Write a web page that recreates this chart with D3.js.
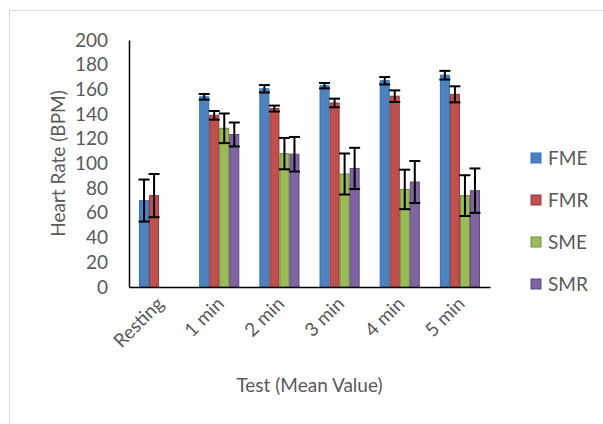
<!DOCTYPE html>
<html><head><meta charset="utf-8">
<script src="https://cdn.jsdelivr.net/npm/d3@7"></script>
<style>body{margin:0;background:#fff}svg{display:block}text{font-family:Lato,"Open Sans",sans-serif;fill:#595959}</style>
</head><body><svg id="c" width="603" height="424"></svg>
<script>
const categories = ["Resting","1 min","2 min","3 min","4 min","5 min"];
const seriesNames = ["FME","FMR","SME","SMR"];
const FME = [70, 154, 160.5, 163, 167, 171.5];
const FMR = [74, 139, 144.5, 149, 154.5, 156];
const SME = [null, 128.5, 108, 91.5, 79, 74];
const SMR = [null, 123.5, 107.5, 96, 85, 78];
const FME_err = [17, 2.3, 3, 2.2, 3, 3.5];
const FMR_err = [17.5, 3.5, 2.4, 3.5, 4.7, 6.5];
const SME_err = [null, 12, 12.7, 16.6, 16, 16.5];
const SMR_err = [null, 9.7, 14, 16.7, 17, 18];
const yTicks = [0,20,40,60,80,100,120,140,160,180,200];
const colors = {FME:"#4f81bd",FMR:"#c0504d",SME:"#9bbb59",SMR:"#8064a2"};
const strokes = {FME:"#2a73c2",FMR:"#8c3a38",SME:"#6f8a3d",SMR:"#5f4a7c"};

const values = {FME, FMR, SME, SMR};
const errs = {FME:FME_err, FMR:FMR_err, SME:SME_err, SMR:SMR_err};
const FS = "19px";

const svg = d3.select("#c");
svg.append("rect").attr("x",9.5).attr("y",10.5).attr("width",700).attr("height",500)
  .attr("fill","none").attr("stroke","#d9d9d9").attr("stroke-width",1);

const L=129, R=490, T=40, B=287;
const x = d3.scaleBand().domain(categories).range([L,R]).paddingInner(1/3).paddingOuter(1/6);
const xs = d3.scaleBand().domain(seriesNames).range([0,x.bandwidth()]);
const y = d3.scaleLinear().domain([0,200]).range([B,T]);

seriesNames.forEach(s=>{
  const g = svg.append("g");
  categories.forEach((c,i)=>{
    const v = values[s][i];
    if(v==null) return;
    g.append("rect").attr("x",x(c)+xs(s)+0.5).attr("y",y(v))
      .attr("width",xs.bandwidth()-1).attr("height",y(0)-y(v))
      .attr("fill",colors[s]).attr("stroke",strokes[s]).attr("stroke-width",1);
  });
});
seriesNames.forEach(s=>{
  categories.forEach((c,i)=>{
    const v = values[s][i], e = errs[s][i];
    if(v==null) return;
    const cx = x(c)+xs(s)+xs.bandwidth()/2;
    const g = svg.append("g").attr("stroke","#000").attr("stroke-width",2);
    g.append("line").attr("x1",cx).attr("x2",cx).attr("y1",y(v+e)).attr("y2",y(v-e));
    [v+e,v-e].forEach(w=>g.append("line").attr("x1",cx-5.5).attr("x2",cx+5.5).attr("y1",y(w)).attr("y2",y(w)));
  });
});

const ya = svg.append("g").attr("transform",`translate(${L},0)`)
  .call(d3.axisLeft(y).tickValues(yTicks).tickSize(0).tickPadding(21));
ya.select(".domain").attr("stroke","#000").attr("stroke-width",1.5);
ya.selectAll("text").style("font-size",FS).style("fill","#595959").style("font-family","Lato, sans-serif");

const xa = svg.append("g").attr("transform",`translate(0,${B})`)
  .call(d3.axisBottom(x).tickSize(0).tickSizeOuter(0));
xa.select(".domain").attr("stroke","#000").attr("stroke-width",1.5);
xa.selectAll("text").style("font-size",FS).style("fill","#595959").style("font-family","Lato, sans-serif")
  .attr("text-anchor","end").attr("dy","0").attr("y",0)
  .attr("transform","translate(6,18) rotate(-45)");

svg.append("text").attr("transform",`translate(65,${(T+B)/2}) rotate(-90)`).attr("text-anchor","middle")
  .style("font-size",FS).text("Heart Rate (BPM)");
svg.append("text").attr("x",(L+R)/2).attr("y",392).attr("text-anchor","middle")
  .style("font-size",FS).text("Test (Mean Value)");

const lg = svg.append("g");
seriesNames.forEach((s,i)=>{
  const cy = 158 + i*42;
  lg.append("rect").attr("x",531).attr("y",cy-5).attr("width",10).attr("height",10)
    .attr("fill",colors[s]).attr("stroke",strokes[s]).attr("stroke-width",1);
  lg.append("text").attr("x",548).attr("y",cy+7).style("font-size",FS).text(s);
});
</script></body></html>
